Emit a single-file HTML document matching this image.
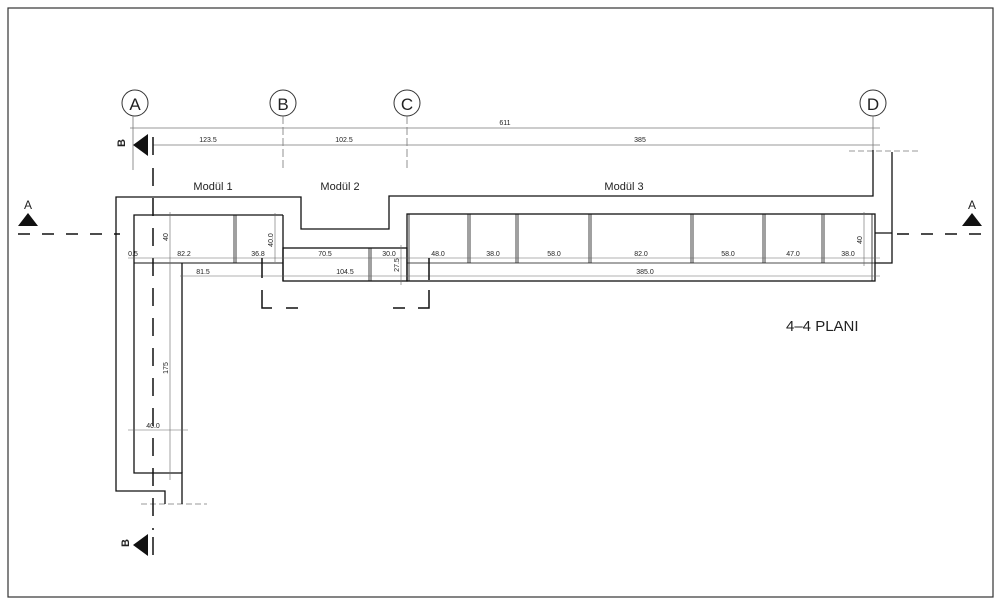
<!DOCTYPE html>
<html><head><meta charset="utf-8"><style>
html,body{margin:0;padding:0;background:#fff;}
svg{display:block}
text{font-family:"Liberation Sans",sans-serif;fill:#222}
.d{font-size:7px;fill:#444}
</style></head><body>
<svg width="1000" height="605" viewBox="0 0 1000 605" xmlns="http://www.w3.org/2000/svg">
<rect x="8" y="8" width="985" height="589" fill="none" stroke="#333" stroke-width="1.2"/>
<!-- grid circles -->
<g fill="none" stroke="#333" stroke-width="1">
<circle cx="135" cy="103" r="13"/><circle cx="283" cy="103" r="13"/>
<circle cx="407" cy="103" r="13"/><circle cx="873" cy="103" r="13"/>
</g>
<g font-size="17" text-anchor="middle"><text x="135" y="110">A</text><text x="283" y="110">B</text><text x="407" y="110">C</text><text x="873" y="110">D</text></g>
<g stroke="#777" stroke-width="0.8">
<line x1="133" y1="116" x2="133" y2="170"/>
<line x1="283" y1="116" x2="283" y2="170" stroke-dasharray="8,3"/>
<line x1="407" y1="116" x2="407" y2="170" stroke-dasharray="8,3"/>
<line x1="873" y1="116" x2="873" y2="150"/>
<line x1="130" y1="128" x2="880" y2="128"/>
<line x1="153" y1="145" x2="880" y2="145"/>
<line x1="849" y1="151" x2="918" y2="151" stroke-dasharray="6,3"/>
<line x1="141" y1="504" x2="207" y2="504" stroke-dasharray="6,3"/>
</g>
<g class="d" text-anchor="middle"><text x="505" y="125">611</text><text x="208" y="142">123.5</text><text x="344" y="142">102.5</text><text x="640" y="142">385</text></g>
<!-- section B markers -->
<polygon points="133,145 148,134 148,156" fill="#111"/>
<text x="127" y="145" font-size="11" font-weight="bold" transform="rotate(-90 125 145)" text-anchor="middle">B</text>
<line x1="153" y1="137" x2="153" y2="155" stroke="#111" stroke-width="1.5"/>
<polygon points="133,545 148,534 148,556" fill="#111"/>
<text x="127" y="549" font-size="11" font-weight="bold" transform="rotate(-90 125 545)" text-anchor="middle">B</text>
<line x1="153" y1="537" x2="153" y2="555" stroke="#111" stroke-width="1.5"/>
<line x1="153" y1="168" x2="153" y2="530" stroke="#111" stroke-width="1.5" stroke-dasharray="18,12"/>
<!-- section A -->
<polygon points="28,213 18,226 38,226" fill="#111"/><text x="28" y="209" font-size="12" text-anchor="middle">A</text>
<polygon points="972,213 962,226 982,226" fill="#111"/><text x="972" y="209" font-size="12" text-anchor="middle">A</text>
<line x1="18" y1="234" x2="120" y2="234" stroke="#111" stroke-width="1.5" stroke-dasharray="12,12"/>
<line x1="897" y1="234" x2="985" y2="234" stroke="#111" stroke-width="1.5" stroke-dasharray="12,12"/>
<!-- outer wall -->
<g fill="none" stroke="#111" stroke-width="1.3">
<polyline points="873,150 873,196 389,196 389,229 301,229 301,197 116,197 116,491 165,491 165,504"/>
<polyline points="892,152 892,263 875,263"/>
<line x1="875" y1="233" x2="892" y2="233"/>
<!-- module 1 -->
<polyline points="283,215 134,215 134,473 182,473 182,504"/>
<line x1="134" y1="263" x2="283" y2="263" stroke-width="0.9"/>
<line x1="182" y1="263" x2="182" y2="473"/>
<line x1="283" y1="215" x2="283" y2="281"/>
<line x1="234" y1="215" x2="234" y2="263" stroke-width="0.8"/><line x1="236" y1="215" x2="236" y2="263" stroke-width="0.8"/>
<!-- module 2 -->
<rect x="283" y="248" width="124" height="33"/>
<line x1="369" y1="248" x2="369" y2="281" stroke-width="0.8"/><line x1="371" y1="248" x2="371" y2="281" stroke-width="0.8"/>
<!-- module 3 -->
<rect x="407" y="214" width="468" height="67"/>
<line x1="407" y1="263" x2="875" y2="263" stroke-width="0.8"/>
<line x1="409" y1="214" x2="409" y2="281" stroke-width="0.8"/>
</g>
<g stroke="#111" stroke-width="0.8">
<line x1="468" y1="214" x2="468" y2="263"/><line x1="470" y1="214" x2="470" y2="263"/>
<line x1="516" y1="214" x2="516" y2="263"/><line x1="518" y1="214" x2="518" y2="263"/>
<line x1="589" y1="214" x2="589" y2="263"/><line x1="591" y1="214" x2="591" y2="263"/>
<line x1="691" y1="214" x2="691" y2="263"/><line x1="693" y1="214" x2="693" y2="263"/>
<line x1="763" y1="214" x2="763" y2="263"/><line x1="765" y1="214" x2="765" y2="263"/>
<line x1="822" y1="214" x2="822" y2="263"/><line x1="824" y1="214" x2="824" y2="263"/>
<line x1="872" y1="214" x2="872" y2="281"/>
</g>
<!-- dimension lines -->
<g stroke="#666" stroke-width="0.6">
<line x1="128" y1="258" x2="880" y2="258"/>
<line x1="180" y1="276" x2="880" y2="276"/>
<line x1="170" y1="212" x2="170" y2="480"/>
<line x1="128" y1="430" x2="188" y2="430"/>
<line x1="275" y1="213" x2="275" y2="262"/>
<line x1="401" y1="245" x2="401" y2="285"/>
<line x1="864" y1="212" x2="864" y2="266"/>
</g>
<g class="d" text-anchor="middle">
<text x="133" y="256">0.5</text><text x="184" y="256">82.2</text><text x="258" y="256">36.8</text>
<text x="325" y="256">70.5</text><text x="389" y="256">30.0</text>
<text x="438" y="256">48.0</text><text x="493" y="256">38.0</text><text x="554" y="256">58.0</text><text x="641" y="256">82.0</text><text x="728" y="256">58.0</text><text x="793" y="256">47.0</text><text x="848" y="256">38.0</text>
<text x="203" y="274">81.5</text><text x="345" y="274">104.5</text><text x="645" y="274">385.0</text>
<text x="153" y="428">40.0</text>
<text transform="translate(168,237) rotate(-90)">40</text>
<text transform="translate(168,368) rotate(-90)">175</text>
<text transform="translate(273,240) rotate(-90)">40.0</text>
<text transform="translate(399,265) rotate(-90)">27.5</text>
<text transform="translate(862,240) rotate(-90)">40</text>
</g>
<!-- section cut -->
<g stroke="#111" stroke-width="1.5" fill="none">
<line x1="262" y1="258" x2="262" y2="278"/><line x1="429" y1="258" x2="429" y2="280"/>
<polyline points="262,290 262,308 272,308"/><line x1="286" y1="308" x2="298" y2="308"/>
<line x1="393" y1="308" x2="405" y2="308"/><polyline points="418,308 429,308 429,290"/>
</g>
<g font-size="11" text-anchor="middle"><text x="213" y="190">Modül 1</text><text x="340" y="190">Modül 2</text><text x="624" y="190">Modül 3</text></g>
<text x="786" y="331" font-size="15" fill="#333">4–4 PLANI</text>
</svg>
</body></html>
